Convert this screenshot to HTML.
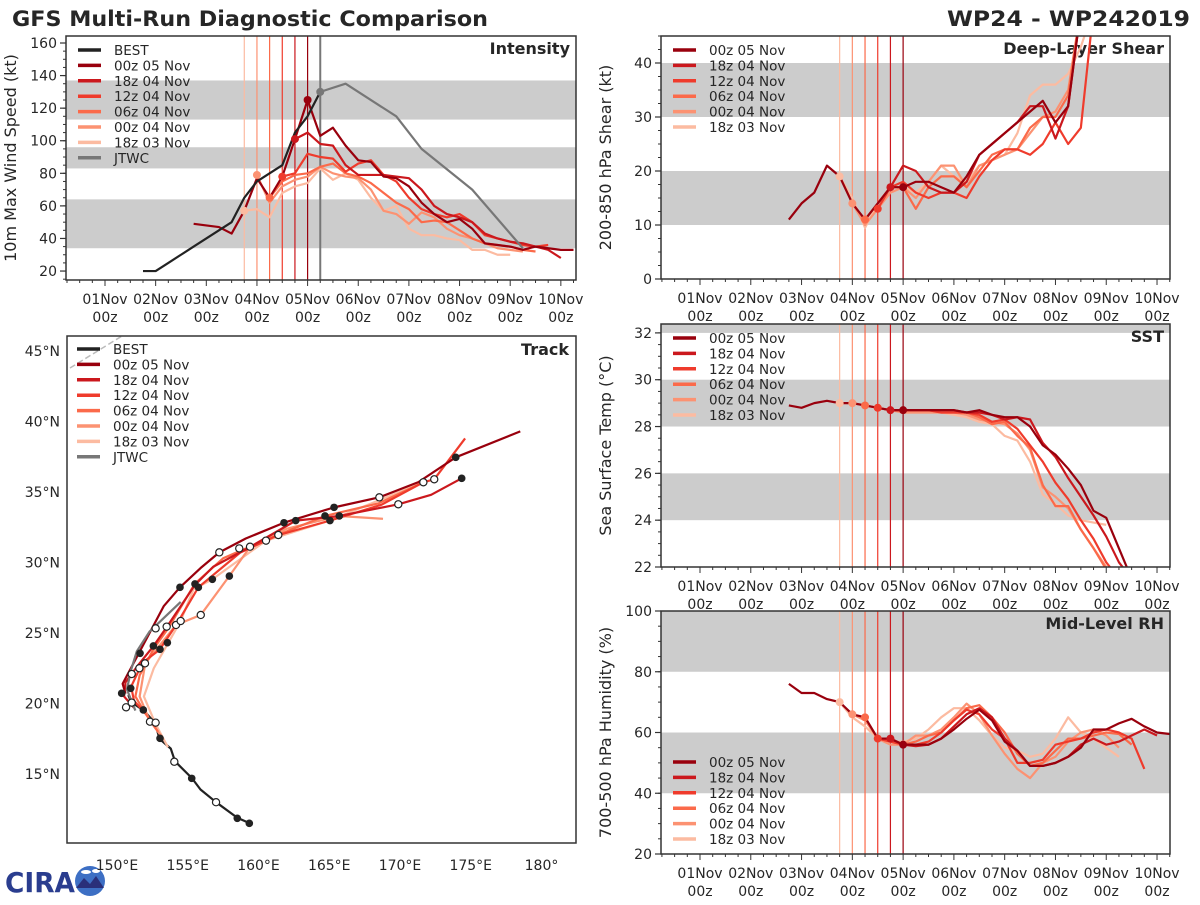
<!DOCTYPE html>
<html><head><meta charset="utf-8"><style>
body{margin:0;background:#fff}
svg text{font-family:"DejaVu Sans","Liberation Sans",sans-serif;fill:#262626}
</style></head><body>
<svg id="c" width="1200" height="900" viewBox="0 0 1200 900" xmlns="http://www.w3.org/2000/svg">
<rect width="1200" height="900" fill="#fff"/>
<text x="12" y="26" font-size="21" font-weight="bold" textLength="476" lengthAdjust="spacingAndGlyphs">GFS Multi-Run Diagnostic Comparison</text>
<text x="1190" y="26" font-size="21" font-weight="bold" text-anchor="end" textLength="243" lengthAdjust="spacingAndGlyphs">WP24 - WP242019</text>
<g>
<text x="5" y="892" font-size="28" font-weight="bold" fill="#2a3d8f" style="fill:#2a3d8f" textLength="70" lengthAdjust="spacingAndGlyphs">CIRA</text>
<circle cx="90" cy="881" r="15" fill="#3d6fc4"/>
<path d="M76 888 L84 878 L90 884 L96 876 L104 888 Z" fill="#2a2f7a"/>
<ellipse cx="86" cy="872" rx="5" ry="2" fill="#fff"/><ellipse cx="96" cy="871" rx="4" ry="2" fill="#fff"/>
</g>
</svg>
<script>
const svg=document.getElementById('c');
const NS='http://www.w3.org/2000/svg';
function mk(tag,attrs,parent){const e=document.createElementNS(NS,tag);for(const k in attrs)e.setAttribute(k,attrs[k]);(parent||svg).appendChild(e);return e;}

// ---------- data ----------
const runNames=['00z 05 Nov','18z 04 Nov','12z 04 Nov','06z 04 Nov','00z 04 Nov','18z 03 Nov'];
const runColors=['#99000d','#cb181d','#ef3b2c','#fb6a4a','#fc9272','#fcbba1'];
const runInit=[4.0,3.75,3.5,3.25,3.0,2.75];
const dayLabels=['01Nov','02Nov','03Nov','04Nov','05Nov','06Nov','07Nov','08Nov','09Nov','10Nov'];

const bestIntStart=0.75;
const bestInt=[20,20,25,30,35,40,45,50,65,75,80,85,105,115,130];
const jtwcIntTimes=[4.25,4.75,5.75,6.25,7.25,8.25];
const jtwcInt=[130,135,115,95,70,34];
const intStart=[1.75,3.75,3.5,3.25,3.0,2.75];
const int00z05=[49,48,47,43,57,77,65,78,101,125,103,108,97,88,87,78,77,72,62,55,50,52,46,37,36,35,33,35,34,33,33];
const int18z04=[101,105,98,97,85,79,79,79,78,77,70,60,55,53,50,43,40,38,37,35,33,28];
const int12z04=[78,80,92,90,89,81,86,88,79,75,65,58,55,53,55,50,42,40,38,36,35,36];
const int06z04=[65,75,79,80,84,86,80,78,74,68,62,58,50,51,50,45,40,37,36,35,33,32];
const int00z04=[79,62,72,76,78,84,80,78,77,70,57,55,49,56,53,46,42,40,37,34,33,32];
const int18z03=[57,58,53,68,72,74,83,76,80,76,65,57,60,46,42,42,40,39,33,33,30,30];

const shrStart=[1.75,3.75,3.5,3.25,3.0,2.75];
const shr00z05=[11,14,16,21,19,14,11,14,17,17,18,18,17,16,19,23,25,27,29,31,33,29,32,50];
const shr18z04=[17,21,20,17,16,16,18,23,25,27,29,32,32,26,32,50];
const shr12z04=[13,17,18,16,15,16,16,15,19,22,24,24,23,25,29,25,28,50];
const shr06z04=[11,14,17,17,13,17,19,19,17,20,23,24,24,28,30,30,34,50];
const shr00z04=[14,10,13,16,17,15,18,21,21,17,21,22,23,24,27,30,31,35,50];
const shr18z03=[19,15,9.5,14,17,17,16,18,21,19,18,21,22,23,27,34,36,36,38,43,50];

const sstStart=[1.75,3.75,3.5,3.25,3.0,2.75];
const sst00z05=[28.9,28.8,29.0,29.1,29.0,29.0,28.9,28.8,28.7,28.7,28.7,28.7,28.7,28.7,28.6,28.7,28.5,28.4,28.4,28.0,27.2,26.8,26.2,25.5,24.4,24.1,22.8,21.5];
const sst18z04=[28.7,28.7,28.7,28.7,28.7,28.7,28.6,28.6,28.5,28.3,28.4,28.3,27.3,26.7,25.8,25.0,24.2,23.3,22.2,21.5];
const sst12z04=[28.8,28.7,28.7,28.7,28.7,28.6,28.6,28.6,28.5,28.2,28.3,27.9,27.2,26.5,25.6,24.9,24.0,23.2,22.2,21.5];
const sst06z04=[28.9,28.8,28.7,28.7,28.7,28.7,28.6,28.6,28.6,28.4,28.1,28.2,27.6,27.1,25.5,24.6,24.6,23.6,22.8,21.9,21.5];
const sst00z04=[29.0,28.9,28.8,28.7,28.6,28.6,28.6,28.6,28.6,28.5,28.3,28.2,28.1,27.7,27.0,25.4,25.0,24.5,23.6,22.8,22.0,21.5];
const sst18z03=[29.0,29.0,28.9,28.8,28.7,28.6,28.6,28.6,28.6,28.5,28.4,28.2,28.1,27.6,27.4,26.5,25.1,24.7,24.2,24.0,23.9,23.8];

const rhStart=[1.75,3.75,3.5,3.25,3.0,2.75];
const rh00z05=[76,73,73,71,70,66,65,58,58,56,56,56,58,61,64.5,67.5,64,57,54,49,49,50,52,55,61,61,63,64.5,62,60,59.5];
const rh18z04=[58,56,55.5,56,58,62,66,68,65,58,54,49,49,50,52,56,58,56,57,59,61,59];
const rh12z04=[58,57,56,56,57,60,64,67.5,66,61,58,50,50,51,56,57,58,60,61,60,58,48];
const rh06z04=[65,58,57,56,57,59,60,64,68,69,65,60,53,49,50,54,58,58,59,60,59.5,56];
const rh00z04=[66,64,58,56,56,59,59,61,65,69.5,66,59,53,48,45,50,52,57,60,61,59,55];
const rh18z03=[70,65,62,58,57,57,58,61,65,68,68,64,59,55,54,52,53,58,65,60,58,55,52];

const trackBest=[[159.4,11.5],[158.5,11.9],[157.0,13.0],[155.9,13.9],[155.3,14.7],[154.1,15.9],[153.8,16.8],[153.0,17.5],[152.7,18.6],[151.9,19.5],[151.0,20.1],[150.8,20.6]];
const trackJtwc=[[151.3,19.5],[150.7,21.0],[151.0,22.4],[151.4,23.7],[152.3,25.1],[154.5,27.2]];
const track00z05=[[150.6,20.7],[150.4,21.4],[151.4,23.3],[152.3,25.0],[153.3,26.9],[154.45,28.24],[155.9,29.6],[157.23,30.72],[159.1,31.7],[161.8,32.82],[165.34,33.91],[168.54,34.62],[171.3,35.7],[173.94,37.46],[178.5,39.3]];
const track18z04=[[151.2,19.7],[150.5,20.5],[150.6,21.5],[151.4,22.6],[152.6,24.1],[153.5,25.4],[155.5,28.4],[156.8,29.7],[159.4,31.1],[162.63,32.97],[165.71,33.3],[169.88,34.13],[172.2,34.8],[174.36,35.97]];
const track12z04=[[152.0,19.3],[151.2,20.2],[151.0,21.2],[151.8,22.9],[153.0,23.8],[154.2,25.6],[155.75,28.24],[158.7,30.7],[161.4,31.95],[165.05,32.97],[168.7,34.1],[171.65,35.69],[172.42,35.9],[174.6,38.8]];
const track06z04=[[152.9,18.0],[152.0,19.3],[151.3,20.5],[151.6,22.0],[152.6,23.9],[153.6,25.3],[155.5,28.5],[157.5,30.3],[160.5,31.6],[164.7,33.3],[168.5,34.2],[171.65,35.69]];
const track00z04=[[153.2,17.6],[152.3,18.8],[151.6,20.5],[152.0,22.85],[154.17,25.57],[155.92,26.28],[157.94,29.04],[159.4,31.1],[162.0,32.4],[165.71,33.3],[168.8,33.1]];
const track18z03=[[153.6,16.9],[152.7,18.6],[151.9,20.5],[152.6,22.5],[154.5,25.85],[155.4,28.1],[156.74,28.81],[160.53,31.55],[165.1,33.0],[168.0,34.2],[171.65,35.69]];
const markersFilled=[[159.35,11.5],[158.5,11.86],[155.28,14.69],[153.04,17.53],[151.86,19.54],[150.33,20.72],[150.97,21.08],[151.63,23.56],[152.57,24.08],[153.04,23.84],[153.56,24.31],[154.45,28.24],[155.51,28.48],[155.75,28.24],[156.74,28.81],[157.94,29.04],[161.8,32.82],[162.63,32.97],[164.7,33.3],[165.05,32.97],[165.34,33.91],[165.71,33.3],[173.94,37.46],[174.36,35.97]];
const markersOpen=[[157.0,13.0],[154.05,15.87],[152.33,18.71],[152.73,18.64],[150.64,19.73],[151.04,20.06],[151.04,22.09],[151.58,22.5],[151.98,22.85],[152.73,25.33],[153.51,25.45],[154.17,25.57],[154.5,25.85],[155.92,26.28],[157.23,30.72],[158.64,31.0],[159.4,31.12],[160.53,31.55],[161.4,31.95],[168.54,34.62],[169.88,34.13],[171.65,35.69],[172.42,35.9]];
const lonTicks=[150,155,160,165,170,175,180];
const latTicks=[15,20,25,30,35,40,45];

// ---------- panels ----------
function panel(name,x0,x1,y0,y1,day0px,pxPerDay,vmin,vmax){
  return {name,x0,x1,y0,y1,X:d=>day0px+d*pxPerDay,Y:v=>y1-(v-vmin)/(vmax-vmin)*(y1-y0),vmin,vmax,day0px,pxPerDay};
}
const P={
 int:panel('intensity',66,576,36,280,105,50.65,14.5,164.3),
 shr:panel('shear',661,1170,36,279,700,50.78,0,45),
 sst:panel('sst',661,1170,324,567,700,50.78,22,32.38),
 rh:panel('rh',661,1170,611,854,700,50.78,20,100)
};
let clipN=0;
function clip(p){const id='cl'+(clipN++);const cp=mk('clipPath',{id});mk('rect',{x:p.x0,y:p.y0,width:p.x1-p.x0,height:p.y1-p.y0},cp);return 'url(#'+id+')';}

function drawAxes(p,bands,ticks,minorStep,ylabel,title,labelY1,initLines,gray){
  const g=mk('g',{});
  
  
  bands.forEach(b=>{const yt=p.Y(Math.min(b[1],p.vmax)),yb=p.Y(b[0]);
    const r=mk('rect',{x:p.x0,y:yt,width:p.x1-p.x0,height:yb-yt,fill:'#cccccc'},g);
    });
  // y ticks
  for(let v=Math.ceil(p.vmin/minorStep)*minorStep;v<=p.vmax;v+=minorStep){mk('line',{x1:p.x0-3,x2:p.x0,y1:p.Y(v),y2:p.Y(v),stroke:'#333','stroke-width':1},g);}
  ticks.forEach(v=>{mk('line',{x1:p.x0-6,x2:p.x0,y1:p.Y(v),y2:p.Y(v),stroke:'#333','stroke-width':1.2},g);
    const t=mk('text',{x:p.x0-9,y:p.Y(v)+5,'font-size':14,'text-anchor':'end'},g);t.textContent=v;
    });
  // x ticks
  for(let d=-0.75;d<=9.3;d+=0.25){const x=p.X(d);if(x<p.x0||x>p.x1)continue;
    const major=Math.abs(d-Math.round(d))<1e-6;
    mk('line',{x1:x,x2:x,y1:p.y1,y2:p.y1+(major?6:3),stroke:'#333','stroke-width':1},g);}
  dayLabels.forEach((l,i)=>{const x=p.X(i);
    const t=mk('text',{x,y:labelY1,'font-size':14,'text-anchor':'middle'},g);t.textContent=l;
    
    const t2=mk('text',{x,y:labelY1+18,'font-size':14,'text-anchor':'middle'},g);t2.textContent='00z';
    });
  // init lines
  initLines.forEach((d,i)=>{const l=mk('line',{x1:p.X(d),x2:p.X(d),y1:p.y0,y2:p.y1,stroke:runColors[i],'stroke-width':1.2},g);
    });
  if(gray!=null){const l=mk('line',{x1:p.X(gray),x2:p.X(gray),y1:p.y0,y2:p.y1,stroke:'#777','stroke-width':2},g);
    }
  const yl=mk('text',{x:0,y:0,'font-size':16,'text-anchor':'middle',transform:`translate(${p.x0-50},${(p.y0+p.y1)/2}) rotate(-90)`},g);
  yl.textContent=ylabel;
  const tt=mk('text',{x:p.x1-6,y:p.y0+18,'font-size':16,'font-weight':'bold','text-anchor':'end'},g);
  tt.textContent=title;
  return g;
}
function frame(p){const r=mk('rect',{x:p.x0,y:p.y0,width:p.x1-p.x0,height:p.y1-p.y0,fill:'none',stroke:'#333','stroke-width':1.5});
  }
function series(p,cp,start,vals,color,name,w,times){
  const pts=vals.map((v,i)=>[p.X(times?times[i]:start+i*0.25),p.Y(v)]);
  const pl=mk('polyline',{points:pts.map(q=>q.join(',')).join(' '),fill:'none',stroke:color,'stroke-width':w||2.2,'stroke-linejoin':'round','clip-path':cp});
  
  
  return pts;
}
function dot(x,y,color,r,cp){const c=mk('circle',{cx:x,cy:y,r:r||4,fill:color,'clip-path':cp||''});
  }
function legend(x,y,dy,names,colors){
  names.forEach((n,i)=>{const g=mk('g',{});
    
    mk('line',{x1:x,x2:x+23,y1:y+i*dy,y2:y+i*dy,stroke:colors[i],'stroke-width':3.5},g);
    const t=mk('text',{x:x+36,y:y+i*dy+5,'font-size':13.5},g);t.textContent=n;});
}

// ---------- intensity ----------
(function(){const p=P.int;drawAxes(p,[[34,64],[83,96],[113,137]],[20,40,60,80,100,120,140,160],5,'10m Max Wind Speed (kt)','Intensity',304,runInit,4.25);
 const cp=clip(p);const all=[int00z05,int18z04,int12z04,int06z04,int00z04,int18z03];
 for(let i=5;i>=0;i--){series(p,cp,intStart[i],all[i],runColors[i],'intensity-line-'+i);}
 series(p,cp,0,jtwcInt,'#777','intensity-jtwc',2.2,jtwcIntTimes);
 series(p,cp,bestIntStart,bestInt,'#222','intensity-best');
 for(let i=5;i>=0;i--){const k=Math.round((runInit[i]-intStart[i])/0.25);dot(p.X(runInit[i]),p.Y(all[i][k]),runColors[i]);}
 dot(p.X(jtwcIntTimes[0]),p.Y(jtwcInt[0]),'#777');
 frame(p);legend(78,50,15.4,['BEST'].concat(runNames,['JTWC']),['#222'].concat(runColors,['#777']));})();

// ---------- right panels ----------
function rightPanel(p,bands,ticks,minor,ylabel,title,ly,arrs,starts,legY){
 drawAxes(p,bands,ticks,minor,ylabel,title,ly,runInit,null);const cp=clip(p);
 for(let i=5;i>=0;i--){series(p,cp,starts[i],arrs[i],runColors[i],p.name+'-line-'+i);}
 for(let i=5;i>=0;i--){const k=Math.round((runInit[i]-starts[i])/0.25);dot(p.X(runInit[i]),p.Y(arrs[i][k]),runColors[i],4,cp);}
 frame(p);legend(673,legY,15.4,runNames,runColors);
}
rightPanel(P.shr,[[10,20],[30,40]],[0,10,20,30,40],2.5,'200-850 hPa Shear (kt)','Deep-Layer Shear',303,[shr00z05,shr18z04,shr12z04,shr06z04,shr00z04,shr18z03],shrStart,50);
rightPanel(P.sst,[[24,26],[28,30],[32,34]],[22,24,26,28,30,32],0.5,'Sea Surface Temp (°C)','SST',591,[sst00z05,sst18z04,sst12z04,sst06z04,sst00z04,sst18z03],sstStart,338);
rightPanel(P.rh,[[40,60],[80,100]],[20,40,60,80,100],5,'700-500 hPa Humidity (%)','Mid-Level RH',878,[rh00z05,rh18z04,rh12z04,rh06z04,rh00z04,rh18z03],rhStart,762);

// ---------- track ----------
(function(){
 const T={x0:67,x1:576,y0:336,y1:843,name:'track'};
 const LX=lon=>117+(lon-150)*14.15, LY=lat=>351+(45-lat)*14.1;
 const g=mk('g',{});
 const cp=clip(T);
 lonTicks.forEach(l=>{const t=mk('text',{x:LX(l),y:870,'font-size':14,'text-anchor':'middle'},g);t.textContent=l===180?'180°':l+'°E';
   });
 latTicks.forEach(l=>{const t=mk('text',{x:60,y:LY(l)+5,'font-size':14,'text-anchor':'end'},g);t.textContent=l+'°N';
   });
 const dash=mk('line',{x1:70,y1:368,x2:122,y2:336,stroke:'#bbb','stroke-width':1.5,'stroke-dasharray':'6,3'},g);
 
 const tt=mk('text',{x:569,y:355,'font-size':16,'font-weight':'bold','text-anchor':'end'},g);tt.textContent='Track';
 
 function tline(arr,color,name){const pl=mk('polyline',{points:arr.map(q=>LX(q[0])+','+LY(q[1])).join(' '),fill:'none',stroke:color,'stroke-width':2.2,'stroke-linejoin':'round','clip-path':cp});
   }
 const tr=[track00z05,track18z04,track12z04,track06z04,track00z04,track18z03];
 tline(trackBest,'#222','track-best');
 for(let i=5;i>=0;i--)tline(tr[i],runColors[i],'track-line-'+i);
 tline(trackJtwc,'#777','track-jtwc');
 markersFilled.forEach(m=>{const c=mk('circle',{cx:LX(m[0]),cy:LY(m[1]),r:3.8,fill:'#222'});
   });
 markersOpen.forEach(m=>{const c=mk('circle',{cx:LX(m[0]),cy:LY(m[1]),r:3.6,fill:'#fff',stroke:'#222','stroke-width':1.2});
   });
 const f=mk('rect',{x:T.x0,y:T.y0,width:T.x1-T.x0,height:T.y1-T.y0,fill:'none',stroke:'#333','stroke-width':1.5});
 
 legend(77,349,15.4,['BEST'].concat(runNames,['JTWC']),['#222'].concat(runColors,['#777']));
})();
</script>
</body></html>
